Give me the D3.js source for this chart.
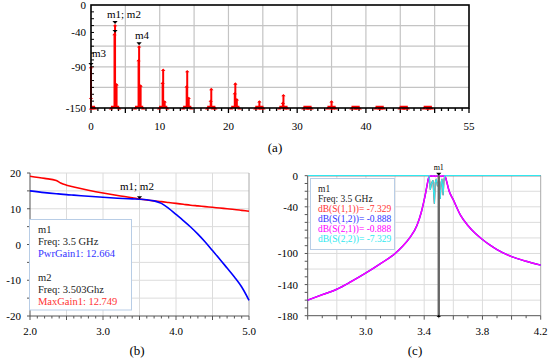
<!DOCTYPE html>
<html lang="en">
<head>
<meta charset="utf-8">
<title>Harmonics, gain and S-parameters</title>
<script src="https://d3js.org/d3.v7.min.js"></script>
<style>
  body { margin: 0; background: #fff; }
  svg { display: block; }
  text { font-family: "Liberation Serif", "DejaVu Serif", serif; }
</style>
</head>
<body>
<script>
// ---- panel (a): output spectrum, harmonics of 3.5 GHz ----
var harmonicFreq = [0, 3.5, 7, 10.5, 14, 17.5, 21, 24.5, 28, 31.5, 35, 38.5, 42, 45.5, 49];
var mainLevel   = [-90, -29, -60, -94, -96, -122, -114, -140, -131, -150, -140, -150, -150, -150, -150];
var innerLevel  = [-135, -42, -80, -113, -118, -139, -128, -150, -142, -150, -150, -150, -150, -150, -150];
var sideLevel   = [-150, -115, -117, -140, -135, -150, -137, -150, -150, -150, -150, -150, -150, -150, -150];
var specXTicks = [0, 10, 20, 30, 40, 55];
var specYTicks = [0, -40, -90, -150];
var specMarkers = [
  {name: "m3", f: 0, v: -90},
  {name: "m1", f: 3.5, v: -29},
  {name: "m2", f: 3.5, v: -42},
  {name: "m4", f: 7, v: -60}
];

// ---- panel (b): gain vs frequency ----
var freqB    = [2.0, 2.2, 2.36, 2.42, 2.5, 2.6, 2.8, 3.0, 3.2, 3.4, 3.5, 3.6, 3.7, 3.8, 3.9, 4.0, 4.1, 4.2, 4.3, 4.4, 4.5, 4.6, 4.7, 4.8, 4.9, 5.0];
var maxGain  = [19.1, 18.5, 17.9, 17.2, 16.6, 16.1, 15.2, 14.4, 13.7, 13.1, 12.75, 12.45, 12.2, 12.0, 11.75, 11.5, 11.25, 11.0, 10.8, 10.6, 10.4, 10.2, 10.0, 9.8, 9.55, 9.3];
var pwrGain  = [15.0, 14.5, 14.2, 14.1, 13.95, 13.8, 13.5, 13.2, 12.95, 12.75, 12.66, 12.5, 12.2, 11.5, 10.1, 8.4, 6.7, 4.9, 2.9, 0.7, -1.7, -4.1, -6.6, -9.1, -11.9, -15.6];
var gainXTicks = [2.0, 3.0, 4.0, 5.0];
var gainYTicks = [20, 10, 0, -10, -20];

// ---- panel (c): filter S-parameters ----
var freqC = [2.6, 2.7, 2.8, 2.9, 3.0, 3.1, 3.2, 3.25, 3.3, 3.35, 3.38, 3.4, 3.41, 3.42, 3.43, 3.436, 3.442, 3.45, 3.46, 3.47, 3.476, 3.483, 3.49, 3.5, 3.51, 3.516, 3.522, 3.53, 3.536, 3.542, 3.548, 3.555, 3.57, 3.6, 3.65, 3.7, 3.75, 3.8, 3.85, 3.9, 4.0, 4.1, 4.2];
var s21 = [-160, -153, -146, -136, -125, -113, -100, -91, -80, -64, -47, -31, -22, -12, -3, -1, -0.5, -0.3, -0.8, -0.4, -0.9, -0.5, -0.7, -0.888, -0.6, -0.9, -0.5, -0.8, -0.6, -1, -3, -8, -19, -31, -51, -64, -74, -82, -89, -95, -104, -110, -115];
var s22 = [0, 0, 0, 0, 0, 0, 0, 0, 0, 0, 0, 0, 0, 0, 0, -4, -18, -10, -6, -36, -9, -4, -12, -7.329, -30, -9, -4, -25, -5, 0, 0, 0, 0, 0, 0, 0, 0, 0, 0, 0, 0, 0, 0];
var sXTicks = [3.0, 3.4, 3.8, 4.2];
var sYTicks = [0, -40, -100, -140, -180];

var W = 550, H = 362;
var svg = d3.select("body").append("svg").attr("width", W).attr("height", H);

function tri(cx, tip, dir, s) {
  // dir 1 = pointing down (tip at bottom), -1 = pointing up
  var b = tip - dir * s * 1.1;
  return "M" + cx + "," + tip + "L" + (cx - s) + "," + b + "L" + (cx + s) + "," + b + "Z";
}

// ================= (a) =================
(function () {
  var x = d3.scaleLinear().domain([0, 55]).range([91, 469]);
  var y = d3.scaleLinear().domain([-150, 0]).range([108, 5]);
  var g = svg.append("g");

  g.append("g").selectAll("line").data(d3.range(5, 55, 5)).join("line")
    .attr("x1", d => x(d)).attr("x2", d => x(d)).attr("y1", y(0)).attr("y2", y(-150))
    .attr("stroke", "#c4c4c4").attr("stroke-width", 1.2);
  g.append("g").selectAll("line").data(d3.range(-30, -150, -30)).join("line")
    .attr("x1", x(0)).attr("x2", x(55)).attr("y1", d => y(d)).attr("y2", d => y(d))
    .attr("stroke", "#c4c4c4").attr("stroke-width", 1.2);

  // ticks
  g.append("g").selectAll("line").data(d3.range(0, 56, 1)).join("line")
    .attr("x1", d => x(d)).attr("x2", d => x(d))
    .attr("y1", y(-150)).attr("y2", d => y(-150) + (d % 5 === 0 ? 5 : 3))
    .attr("stroke", "#000").attr("stroke-width", 1.3);
  g.append("g").selectAll("line").data(d3.range(-10, -150, -10)).join("line")
    .attr("x1", x(0)).attr("x2", x(0) + 3).attr("y1", d => y(d)).attr("y2", d => y(d))
    .attr("stroke", "#000").attr("stroke-width", 1);

  // stems
  var stems = [];
  harmonicFreq.forEach(function (f, i) {
    stems.push({f: f, v: mainLevel[i]});
    stems.push({f: i === 0 ? f : f - 0.08, v: innerLevel[i]});
    stems.push({f: f + 0.22, v: sideLevel[i]});
    stems.push({f: Math.max(0, f - 0.6), v: -150});
    stems.push({f: f + 0.6, v: -150});
  });
  g.append("g").selectAll("line.base").data(harmonicFreq).join("line")
    .attr("x1", d => x(Math.max(0, d - 0.6))).attr("x2", d => x(d + 0.6))
    .attr("y1", y(-150) - 1).attr("y2", y(-150) - 1)
    .attr("stroke", "#f00").attr("stroke-width", 2.5);
  g.append("g").selectAll("line").data(stems).join("line")
    .attr("x1", d => x(d.f)).attr("x2", d => x(d.f))
    .attr("y1", y(-150)).attr("y2", d => y(d.v))
    .attr("stroke", "#f00").attr("stroke-width", 2);
  g.append("g").selectAll("path").data(stems).join("path")
    .attr("d", d => tri(x(d.f), y(d.v) - 1, -1, 2.2))
    .attr("fill", "#f00");

  g.append("rect").attr("x", x(0)).attr("y", y(0))
    .attr("width", x(55) - x(0)).attr("height", y(-150) - y(0))
    .attr("fill", "none").attr("stroke", "#000").attr("stroke-width", 1.6);

  // markers
  g.append("g").selectAll("path").data(specMarkers).join("path")
    .attr("d", d => tri(x(d.f), y(d.v) - 1, 1, 2.6)).attr("fill", "#000");
  g.append("text").attr("x", 107).attr("y", 18).attr("font-size", 11).text("m1; m2");
  g.append("text").attr("x", 135).attr("y", 39).attr("font-size", 11).text("m4");
  g.append("text").attr("x", 92).attr("y", 57).attr("font-size", 11).text("m3");

  g.append("g").selectAll("text").data(specXTicks).join("text")
    .attr("x", d => x(d)).attr("y", 130).attr("text-anchor", "middle")
    .attr("font-size", 11).text(d => d);
  g.append("g").selectAll("text").data(specYTicks).join("text")
    .attr("x", 86).attr("y", d => y(d) + 4).attr("text-anchor", "end")
    .attr("font-size", 11).text(d => d);
  g.append("text").attr("x", 275).attr("y", 152).attr("text-anchor", "middle")
    .attr("font-size", 13).text("(a)");
})();

// ================= (b) =================
(function () {
  var x = d3.scaleLinear().domain([2, 5]).range([30, 249]);
  var y = d3.scaleLinear().domain([-20, 20]).range([316, 173]);
  var g = svg.append("g");

  g.append("g").selectAll("line").data(d3.range(2.5, 5, 0.5)).join("line")
    .attr("x1", d => x(d)).attr("x2", d => x(d)).attr("y1", y(20)).attr("y2", y(-20))
    .attr("stroke", "#dcdcdc");
  g.append("g").selectAll("line").data(d3.range(-15, 21, 5)).join("line")
    .attr("x1", x(2)).attr("x2", x(5)).attr("y1", d => y(d)).attr("y2", d => y(d))
    .attr("stroke", "#dcdcdc");
  g.append("line").attr("x1", x(5)).attr("x2", x(5)).attr("y1", y(20)).attr("y2", y(-20)).attr("stroke", "#aaa");

  g.append("g").selectAll("line").data(d3.range(0, 31)).join("line")
    .attr("x1", d => x(2 + d / 10)).attr("x2", d => x(2 + d / 10))
    .attr("y1", y(-20)).attr("y2", d => y(-20) + (d % 5 === 0 ? 4 : 2.5))
    .attr("stroke", "#555");
  g.append("g").selectAll("line").data(d3.range(-20, 21, 5)).join("line")
    .attr("x1", x(2) - 3).attr("x2", x(2)).attr("y1", d => y(d)).attr("y2", d => y(d))
    .attr("stroke", "#555");
  g.append("line").attr("x1", x(2)).attr("x2", x(5)).attr("y1", y(-20)).attr("y2", y(-20)).attr("stroke", "#555");
  g.append("line").attr("x1", x(2)).attr("x2", x(2)).attr("y1", y(20)).attr("y2", y(-20)).attr("stroke", "#555");

  var line = d3.line().x((d, i) => x(freqB[i])).y(d => y(d)).curve(d3.curveMonotoneX);
  g.append("path").attr("d", line(maxGain)).attr("fill", "none").attr("stroke", "#f00").attr("stroke-width", 1.6);
  g.append("path").attr("d", line(pwrGain)).attr("fill", "none").attr("stroke", "#00f").attr("stroke-width", 1.6);

  g.append("path").attr("d", tri(x(3.5), y(12.7), 1, 2.6)).attr("fill", "#000");
  g.append("text").attr("x", 120).attr("y", 190).attr("font-size", 11).text("m1; m2");

  g.append("rect").attr("x", 29.5).attr("y", 219.5).attr("width", 102).attr("height", 90.5)
    .attr("fill", "#fff").attr("stroke", "#b8cde6");
  var lines = [
    {t: "m1", c: "#222", y: 233},
    {t: "Freq: 3.5 GHz", c: "#222", y: 245},
    {t: "PwrGain1: 12.664", c: "#33f", y: 257},
    {t: "m2", c: "#222", y: 281},
    {t: "Freq: 3.503Ghz", c: "#222", y: 293},
    {t: "MaxGain1: 12.749", c: "#f33", y: 305}
  ];
  g.append("g").selectAll("text").data(lines).join("text")
    .attr("x", 38).attr("y", d => d.y).attr("fill", d => d.c)
    .attr("font-size", 10.5).text(d => d.t);

  g.append("g").selectAll("text").data(gainXTicks).join("text")
    .attr("x", d => x(d)).attr("y", 335).attr("text-anchor", "middle")
    .attr("font-size", 11).text(d => d.toFixed(1));
  g.append("g").selectAll("text").data(gainYTicks).join("text")
    .attr("x", 21).attr("y", d => y(d) + 4).attr("text-anchor", "end")
    .attr("font-size", 11).text(d => d);
  g.append("text").attr("x", 137).attr("y", 355).attr("text-anchor", "middle")
    .attr("font-size", 13).text("(b)");
})();

// ================= (c) =================
(function () {
  var x = d3.scaleLinear().domain([2.6, 4.2]).range([307.7, 540.7]);
  var y = d3.scaleLinear().domain([-180, 0]).range([315.7, 175.7]);
  var g = svg.append("g");

  g.append("g").selectAll("line").data(d3.range(1, 8)).join("line")
    .attr("x1", d => x(2.6 + d * 0.2)).attr("x2", d => x(2.6 + d * 0.2)).attr("y1", y(0)).attr("y2", y(-180))
    .attr("stroke", "#dcdcdc");
  g.append("g").selectAll("line").data(d3.range(-20, -180, -20)).join("line")
    .attr("x1", x(2.6)).attr("x2", x(4.2)).attr("y1", d => y(d)).attr("y2", d => y(d))
    .attr("stroke", "#dcdcdc");
  g.append("line").attr("x1", x(4.2)).attr("x2", x(4.2)).attr("y1", y(0)).attr("y2", y(-180)).attr("stroke", "#aaa");

  g.append("g").selectAll("line").data(d3.range(0, 17)).join("line")
    .attr("x1", d => x(2.6 + d / 10)).attr("x2", d => x(2.6 + d / 10))
    .attr("y1", y(-180)).attr("y2", d => y(-180) + (d % 2 === 0 ? 4 : 2.5))
    .attr("stroke", "#555");
  g.append("g").selectAll("line").data(d3.range(0, -181, -10)).join("line")
    .attr("x1", x(2.6) - 3).attr("x2", x(2.6)).attr("y1", d => y(d)).attr("y2", d => y(d))
    .attr("stroke", "#555");
  g.append("line").attr("x1", x(2.6)).attr("x2", x(4.2)).attr("y1", y(-180)).attr("y2", y(-180)).attr("stroke", "#555");
  g.append("line").attr("x1", x(2.6)).attr("x2", x(2.6)).attr("y1", y(0)).attr("y2", y(-180)).attr("stroke", "#555");

  var smooth = d3.line().x((d, i) => x(freqC[i])).y(d => y(d)).curve(d3.curveMonotoneX);
  var sharp = d3.line().x((d, i) => x(freqC[i])).y(d => y(d));
  // S11 = S22, S12 = S21 (drawn below and hidden)
  g.append("path").attr("d", sharp(s22)).attr("fill", "none").attr("stroke", "#f00").attr("stroke-width", 1.2);
  g.append("path").attr("d", smooth(s21)).attr("fill", "none").attr("stroke", "#00f").attr("stroke-width", 1.4);
  g.append("path").attr("d", smooth(s21)).attr("fill", "none").attr("stroke", "#f0f").attr("stroke-width", 1.5);
  g.append("path").attr("d", sharp(s22)).attr("fill", "none").attr("stroke", "#2ee8f0").attr("stroke-width", 1.2);

  // marker m1
  g.append("line").attr("x1", x(3.5)).attr("x2", x(3.5)).attr("y1", y(0)).attr("y2", y(-180))
    .attr("stroke", "#666").attr("stroke-width", 2.4);
  g.append("path").attr("d", tri(x(3.5), y(0), 1, 2.6)).attr("fill", "#000");
  g.append("path").attr("d", tri(x(3.5), y(-180) - 1, -1, 2.2)).attr("fill", "#000");
  g.append("text").attr("x", x(3.5)).attr("y", 170).attr("text-anchor", "middle")
    .attr("font-family", "DejaVu Sans").attr("font-size", 8).text("m1");

  g.append("rect").attr("x", 310.5).attr("y", 178.5).attr("width", 84).attr("height", 71)
    .attr("fill", "#fff").attr("stroke", "#b8cde6");
  var lines = [
    {t: "m1", c: "#222", y: 192},
    {t: "Freq: 3.5 GHz", c: "#222", y: 202},
    {t: "dB(S(1,1))= -7.329", c: "#f33", y: 212},
    {t: "dB(S(1,2))= -0.888", c: "#33f", y: 222},
    {t: "dB(S(2,1))= -0.888", c: "#f0f", y: 232},
    {t: "dB(S(2,2))= -7.329", c: "#2ee8f0", y: 242}
  ];
  g.append("g").selectAll("text").data(lines).join("text")
    .attr("x", 318).attr("y", d => d.y).attr("fill", d => d.c)
    .attr("font-size", 9.5).text(d => d.t);

  g.append("g").selectAll("text").data(sXTicks).join("text")
    .attr("x", d => x(d)).attr("y", 335).attr("text-anchor", "middle")
    .attr("font-size", 11).text(d => d.toFixed(1));
  g.append("g").selectAll("text").data(sYTicks).join("text")
    .attr("x", 298).attr("y", d => y(d) + 4).attr("text-anchor", "end")
    .attr("font-size", 11).text(d => d);
  g.append("text").attr("x", 415).attr("y", 355).attr("text-anchor", "middle")
    .attr("font-size", 13).text("(c)");
})();
</script>
</body>
</html>
